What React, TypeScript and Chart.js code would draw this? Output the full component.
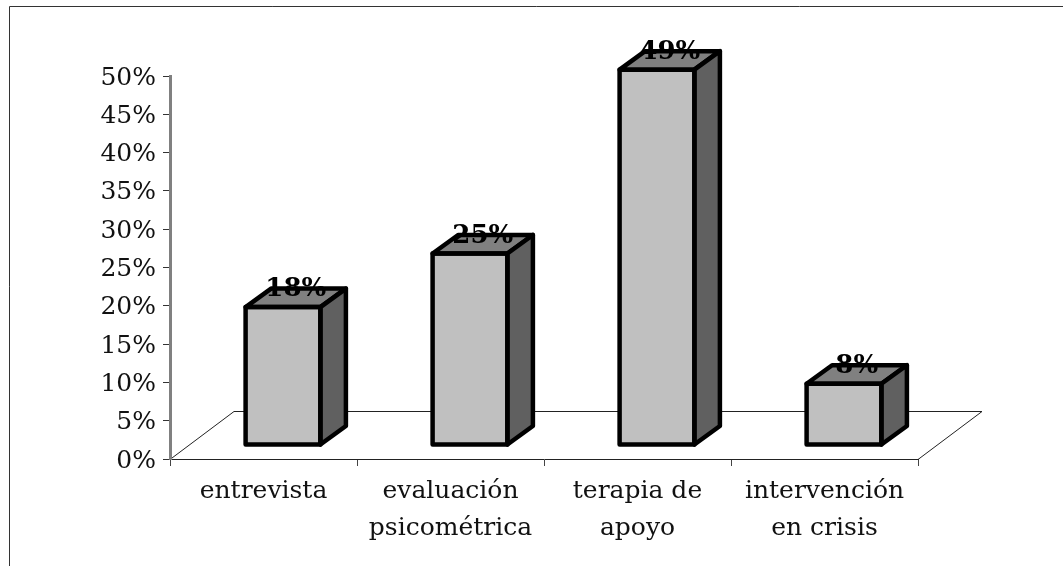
import React, { useEffect, useRef } from "react";
import { Chart, registerables } from "chart.js";

Chart.register(...registerables);

const categories: string[][] = [
  ["entrevista"],
  ["evaluación", "psicométrica"],
  ["terapia de", "apoyo"],
  ["intervención", "en crisis"],
];
const values: number[] = [18, 25, 49, 8];
const yMax = 50;
const yStep = 5;

const FONT = '"DejaVu Serif"';
const SHIFT_X = 19.5;
const SHIFT_Y = -14;
const DEPTH_X = 25.5;
const DEPTH_Y = -18.5;

const scene = {
  id: "scene",
  beforeDraw(chart: any) {
    const { ctx, width, height, chartArea: a } = chart;
    ctx.save();
    ctx.fillStyle = "#ffffff";
    ctx.fillRect(0, 0, width, height);
    // outer frame
    ctx.strokeStyle = "#333333";
    ctx.lineWidth = 1;
    ctx.beginPath();
    ctx.moveTo(9.5, height);
    ctx.lineTo(9.5, 6.5);
    ctx.lineTo(width, 6.5);
    ctx.stroke();
    // floor
    const y0 = a.bottom + 0.5;
    const fx = 64;
    const fy = -48;
    ctx.strokeStyle = "#222222";
    ctx.beginPath();
    ctx.moveTo(a.left, y0);
    ctx.lineTo(a.left + fx, y0 + fy);
    ctx.lineTo(a.right + fx, y0 + fy);
    ctx.lineTo(a.right, y0);
    ctx.stroke();
    ctx.restore();
  },
  beforeDatasetDraw(chart: any) {
    chart.ctx.save();
    chart.ctx.translate(SHIFT_X, SHIFT_Y);
  },
  afterDatasetDraw(chart: any, args: any) {
    const { ctx } = chart;
    ctx.lineWidth = 4.5;
    ctx.lineJoin = "round";
    ctx.strokeStyle = "#000000";
    args.meta.data.forEach((bar: any) => {
      const l = bar.x - bar.width / 2;
      const r = bar.x + bar.width / 2;
      const t = bar.y;
      const b = bar.base;
      ctx.fillStyle = "#808080";
      ctx.beginPath();
      ctx.moveTo(l, t);
      ctx.lineTo(l + DEPTH_X, t + DEPTH_Y);
      ctx.lineTo(r + DEPTH_X, t + DEPTH_Y);
      ctx.lineTo(r, t);
      ctx.closePath();
      ctx.fill();
      ctx.stroke();
      ctx.fillStyle = "#606060";
      ctx.beginPath();
      ctx.moveTo(r, t);
      ctx.lineTo(r + DEPTH_X, t + DEPTH_Y);
      ctx.lineTo(r + DEPTH_X, b + DEPTH_Y);
      ctx.lineTo(r, b);
      ctx.closePath();
      ctx.fill();
      ctx.stroke();
      ctx.strokeRect(l, t, r - l, b - t);
    });
    ctx.restore();
  },
  afterDatasetsDraw(chart: any) {
    const { ctx } = chart;
    const meta = chart.getDatasetMeta(0);
    ctx.save();
    ctx.font = `bold 26px ${FONT}`;
    ctx.fillStyle = "#000000";
    ctx.textAlign = "center";
    ctx.textBaseline = "middle";
    meta.data.forEach((bar: any, i: number) => {
      ctx.fillText(
        `${values[i]}%`,
        bar.x + SHIFT_X + DEPTH_X / 2,
        bar.y + SHIFT_Y + DEPTH_Y + 1
      );
    });
    ctx.restore();
  },
};

export default function App() {
  const ref = useRef<HTMLCanvasElement>(null);
  useEffect(() => {
    const chart = new Chart(ref.current as HTMLCanvasElement, {
      type: "bar",
      data: {
        labels: categories as any,
        datasets: [
          {
            data: values,
            backgroundColor: "#c0c0c0",
            borderWidth: 0,
            barPercentage: 0.4,
            categoryPercentage: 1,
            clip: false as any,
          },
        ],
      },
      options: {
        responsive: false,
        animation: false,
        layout: { padding: { left: 0, right: 145, top: 76, bottom: 0 } },
        plugins: { legend: { display: false }, title: { display: false }, tooltip: { enabled: false } },
        scales: {
          x: {
            afterFit: (s: any) => {
              s.height = 107;
            },
            border: { color: "#222222", width: 1 },
            grid: { drawOnChartArea: false, tickLength: 7, tickColor: "#444444", tickWidth: 1 },
            ticks: {
              color: "#111111",
              padding: 7,
              autoSkip: false,
              maxRotation: 0,
              font: { family: FONT, size: 25, lineHeight: 1.48 },
            },
          },
          y: {
            min: 0,
            max: yMax,
            afterFit: (s: any) => {
              s.width = 170;
            },
            border: { color: "#808080", width: 3 },
            grid: { drawOnChartArea: false, tickLength: 7, tickColor: "#333333", tickWidth: 1 },
            ticks: {
              stepSize: yStep,
              color: "#111111",
              padding: 7,
              labelOffset: 2,
              font: { family: FONT, size: 25 },
              callback: (v: any) => `${v}%`,
            },
          },
        },
      },
      plugins: [scene],
    } as any);
    return () => chart.destroy();
  }, []);
  return (
    <div style={{ position: "fixed", left: 0, top: 0, width: 1063, height: 566 }}>
      <canvas ref={ref} width={1063} height={566} style={{ display: "block" }} />
    </div>
  );
}
